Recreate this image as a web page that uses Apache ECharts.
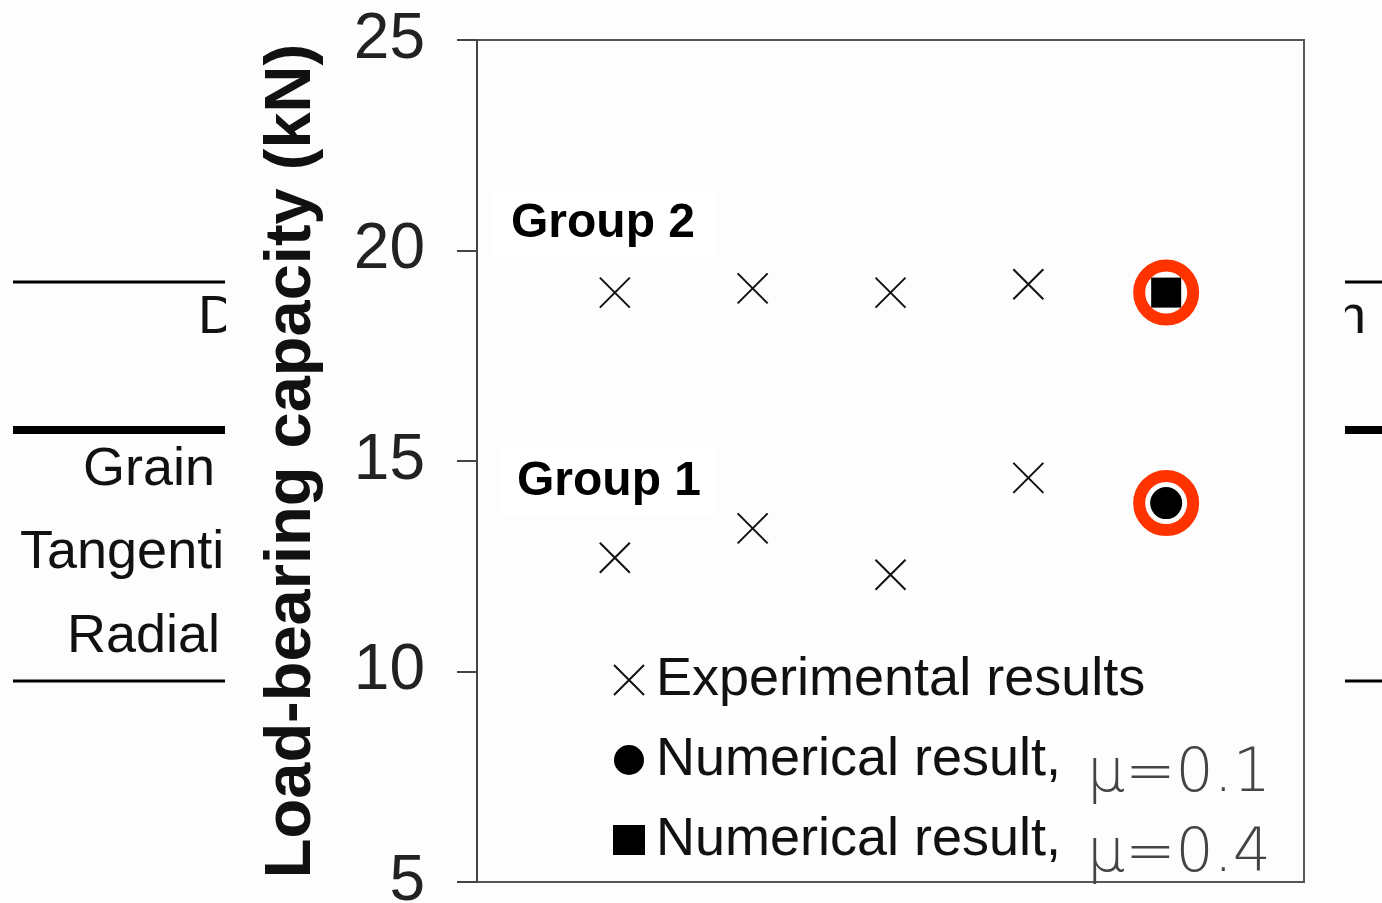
<!DOCTYPE html>
<html><head><meta charset="utf-8">
<script src="https://cdn.jsdelivr.net/npm/echarts@6/dist/echarts.min.js"></script>
<style>html,body{margin:0;padding:0;background:#fdfdfd;overflow:hidden;}#c{width:1382px;height:903px;}</style>
</head><body><div id="c"></div>
<script>
// Data
const specimenX = [1, 2, 3, 4];
const group2Exp = [19.0, 19.1, 19.0, 19.2];
const group1Exp = [12.7, 13.4, 12.3, 14.6];
const numX = 5;
const numMu01 = [14.0];
const numMu04 = [19.0];
const yTicks = [5, 10, 15, 20, 25];
const seriesNames = ['Experimental results', 'Numerical result, μ=0.1', 'Numerical result, μ=0.4'];

const expData = specimenX.map((x, i) => [x, group2Exp[i]]).concat(specimenX.map((x, i) => [x, group1Exp[i]]));
const mu01Data = numMu01.map(v => [numX, v]);
const mu04Data = numMu04.map(v => [numX, v]);
const ringData = mu01Data.concat(mu04Data);

const FONT = '"Liberation Sans", Arial, sans-serif';
const chart = echarts.init(document.getElementById('c'));
chart.setOption({
  backgroundColor: '#fdfdfd',
  animation: false,
  grid: { left: 477, right: 78, top: 40, bottom: 21, outerBoundsMode: 'none', containLabel: false, show: true, borderColor: '#555', borderWidth: 2, backgroundColor: 'transparent' },
  xAxis: {
    type: 'value', min: 0, max: 6,
    axisLine: { show: false }, axisTick: { show: false }, axisLabel: { show: false }, splitLine: { show: false }
  },
  yAxis: {
    type: 'value', min: yTicks[0], max: yTicks[yTicks.length - 1], interval: 5,
    name: 'Load-bearing capacity (kN)', nameLocation: 'middle', nameGap: 152,
    nameTextStyle: { fontFamily: FONT, fontSize: 65, fontWeight: 'bold', color: '#111' },
    axisLine: { show: true, lineStyle: { color: '#444', width: 2 } },
    axisTick: { show: true, inside: false, length: 20, lineStyle: { color: '#444', width: 2 } },
    axisLabel: { margin: 52, fontFamily: FONT, fontSize: 64, color: '#222' },
    splitLine: { show: false }
  },
  legend: {
    orient: 'vertical', left: 608, top: 648, itemWidth: 32, itemHeight: 30, itemGap: 8,
    data: seriesNames,
    formatter: function (name) {
      const p = name.split(' μ');
      if (p.length > 1) return '{a|' + p[0] + '}{m|μ' + p[1] + '}';
      return '{a|' + name + '}{m| }';
    },
    textStyle: {
      rich: {
        a: { fontFamily: FONT, fontSize: 54, color: '#111', padding: [15, 0, 15, 6] },
        m: { fontFamily: '"DejaVu Sans", sans-serif', fontSize: 60, fontWeight: 200, color: '#444', padding: [30, 0, 0, 26] }
      }
    }
  },
  series: [
    {
      name: 'ring', type: 'scatter', data: ringData, symbol: 'circle', symbolSize: 54, z: 1, silent: true,
      itemStyle: { color: 'transparent', borderColor: '#ff3300', borderWidth: 12, opacity: 1 }
    },
    {
      name: seriesNames[0], type: 'scatter', data: expData,
      symbol: 'path://M0,0L10,10M10,0L0,10', symbolSize: 30, z: 3,
      itemStyle: { color: 'transparent', borderColor: '#111', borderWidth: 2, opacity: 1 }
    },
    {
      name: seriesNames[1], type: 'scatter', data: mu01Data, symbol: 'circle', symbolSize: 32, z: 3,
      itemStyle: { color: '#000', opacity: 1 }
    },
    {
      name: seriesNames[2], type: 'scatter', data: mu04Data, symbol: 'rect', symbolSize: 30, z: 3,
      itemStyle: { color: '#000', opacity: 1 }
    }
  ],
  graphic: [
    // Group annotations
    { type: 'rect', shape: { x: 492, y: 190, width: 222, height: 68 }, style: { fill: '#fff' }, z: 2 },
    { type: 'text', x: 511, y: 224, z: 3, style: { text: 'Group 2', font: 'bold 48px ' + FONT, fill: '#000', textVerticalAlign: 'middle' } },
    { type: 'rect', shape: { x: 498, y: 442, width: 220, height: 74 }, style: { fill: '#fff' }, z: 2 },
    { type: 'text', x: 517, y: 482, z: 3, style: { text: 'Group 1', font: 'bold 48px ' + FONT, fill: '#000', textVerticalAlign: 'middle' } },
    // Left table fragment
    { type: 'text', x: 198, y: 318, z: 1, style: { text: 'D', font: '54px ' + FONT, fill: '#111', textVerticalAlign: 'middle' } },
    { type: 'text', x: 215, y: 470, z: 1, style: { text: 'Grain', font: '54px ' + FONT, fill: '#111', textAlign: 'right', textVerticalAlign: 'middle' } },
    { type: 'text', x: 20, y: 553, z: 1, style: { text: 'Tangenti', font: '54px ' + FONT, fill: '#111', textVerticalAlign: 'middle' } },
    { type: 'text', x: 220, y: 637, z: 1, style: { text: 'Radial', font: '54px ' + FONT, fill: '#111', textAlign: 'right', textVerticalAlign: 'middle' } },
    { type: 'rect', shape: { x: 226, y: 260, width: 34, height: 420 }, style: { fill: '#fdfdfd' }, z: 2 },
    { type: 'line', shape: { x1: 13, y1: 282, x2: 225, y2: 282 }, style: { stroke: '#000', lineWidth: 3 }, z: 3 },
    { type: 'line', shape: { x1: 13, y1: 430, x2: 225, y2: 430 }, style: { stroke: '#000', lineWidth: 8 }, z: 3 },
    { type: 'line', shape: { x1: 13, y1: 681, x2: 225, y2: 681 }, style: { stroke: '#000', lineWidth: 3 }, z: 3 },
    // Right table fragment
    { type: 'text', x: 1336, y: 318, z: 1, style: { text: 'n', font: '54px ' + FONT, fill: '#111', textVerticalAlign: 'middle' } },
    { type: 'rect', shape: { x: 1307, y: 290, width: 38, height: 60 }, style: { fill: '#fdfdfd' }, z: 2 },
    { type: 'line', shape: { x1: 1345, y1: 282, x2: 1382, y2: 282 }, style: { stroke: '#000', lineWidth: 3 }, z: 3 },
    { type: 'line', shape: { x1: 1345, y1: 430, x2: 1382, y2: 430 }, style: { stroke: '#000', lineWidth: 8 }, z: 3 },
    { type: 'line', shape: { x1: 1345, y1: 681, x2: 1382, y2: 681 }, style: { stroke: '#000', lineWidth: 3 }, z: 3 }
  ]
});
</script></body></html>
